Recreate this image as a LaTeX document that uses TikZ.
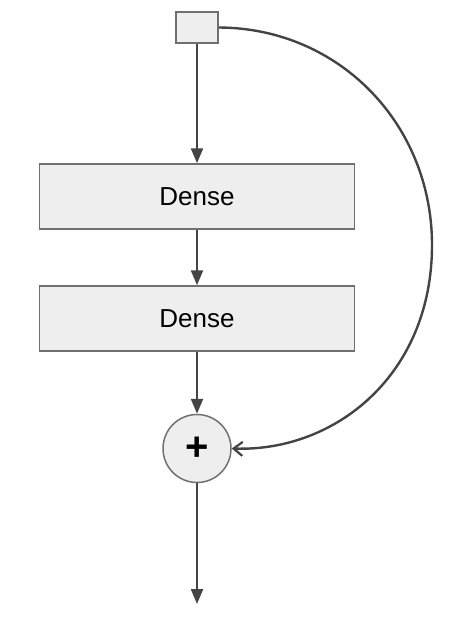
\documentclass[tikz,border=0pt]{standalone}
\usepackage{fontspec}
\setmainfont{Liberation Sans}
\usetikzlibrary{arrows.meta}
\definecolor{boxfill}{HTML}{EEEEEE}
\definecolor{boxline}{HTML}{707070}
\definecolor{wire}{HTML}{444444}
\begin{document}
\begin{tikzpicture}[x=1pt,y=-1pt,
  layer/.style={draw=boxline, line width=1.5pt, fill=boxfill, minimum width=315pt, minimum height=65pt, inner sep=0pt, font=\fontsize{26}{30}\selectfont},
  inbox/.style={draw=boxline, line width=1.5pt, fill=boxfill, minimum width=42pt, minimum height=31pt, inner sep=0pt},
  sumnode/.style={circle, draw=boxline, line width=1.5pt, fill=boxfill, minimum size=68pt, inner sep=0pt, font=\fontsize{40}{40}\selectfont\bfseries},
  flow/.style={draw=wire, line width=2.4pt, -{Triangle[length=15pt,width=12pt]}},
  skip/.style={draw=wire, line width=2.4pt, -{Straight Barb[length=9pt,width=14pt,line width=2.2pt]}}]
  \useasboundingbox (0,0) rectangle (452,618);
  \node[inbox] (in) at (197,27.5) {};
  \node[layer] (d1) at (197,196.5) {Dense};
  \node[layer] (d2) at (197,318.5) {Dense};
  \node[sumnode] (sum) at (197,448.5) {\raisebox{-1pt}{+}};
  \coordinate (out) at (197,604);
  \draw[flow] (in.south) -- (d1.north);
  \draw[flow] (d1.south) -- (d2.north);
  \draw[flow] (d2.south) -- (sum.north);
  \draw[flow] (sum.south) -- (out);
  \draw[skip] (in.east) .. controls (340,28) and (432,125) .. (432,245)
              .. controls (432,375) and (335,452) .. (sum.east);
\end{tikzpicture}
\end{document}
